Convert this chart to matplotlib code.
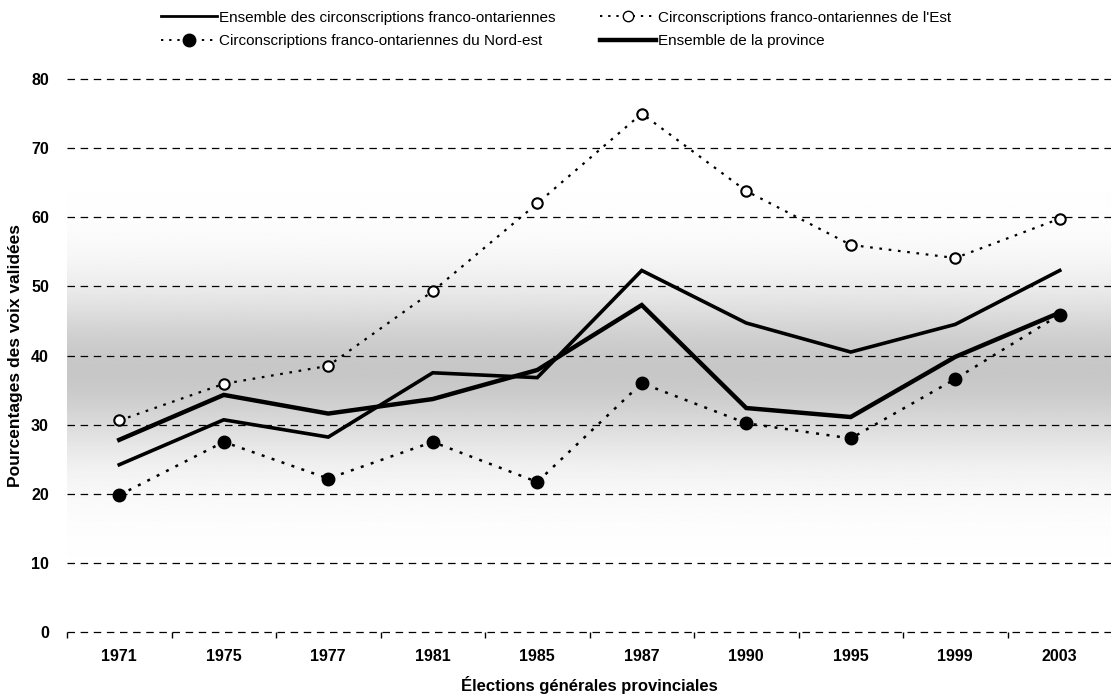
import numpy as np
import matplotlib.pyplot as plt
from matplotlib.lines import Line2D

plt.rcParams['font.family'] = ['Liberation Sans', 'DejaVu Sans']

elections = ['1971', '1975', '1977', '1981', '1985', '1987', '1990', '1995', '1999', '2003']

franco_all = [24.2, 30.7, 28.2, 37.5, 36.8, 52.3, 44.7, 40.5, 44.5, 52.3]
franco_est = [30.6, 35.9, 38.5, 49.3, 62.0, 75.0, 63.8, 56.0, 54.1, 59.8]
franco_nord_est = [19.8, 27.5, 22.2, 27.5, 21.7, 36.0, 30.2, 28.0, 36.6, 45.9]
province = [27.8, 34.3, 31.6, 33.7, 37.9, 47.3, 32.4, 31.1, 39.8, 46.2]

y_ticks = [0, 10, 20, 30, 40, 50, 60, 70, 80]

W, H = 1111, 696
fig = plt.figure(figsize=(W / 100, H / 100), dpi=100)
ax = fig.add_axes([67 / W, (H - 632) / H, 1045 / W, (632 - 79) / H])

x = np.arange(len(elections))
ax.set_xlim(-0.5, len(elections) - 0.5)
ax.set_ylim(0, 80)

# grey scanned band behind the lines
yy = np.linspace(0, 80, 400)
shade = 0.17 * np.exp(-((yy - 38) / 11.0) ** 2) + 0.05 * np.exp(-((yy - 37) / 16.0) ** 2)
ax.imshow(1 - shade[:, None], extent=[-0.5, len(elections) - 0.5, 0, 80], origin='lower',
          aspect='auto', cmap='gray', vmin=0, vmax=1, zorder=0)

for v in y_ticks:
    ax.axhline(v, color='black', linewidth=0.9, linestyle=(0, (6, 4.5)), clip_on=False, zorder=1)

ax.plot(x, franco_all, color='black', linewidth=2.6, solid_joinstyle='miter', zorder=3)
ax.plot(x, franco_est, color='black', linewidth=1.6, linestyle=(0, (1.2, 3)),
        marker='o', markersize=7.5, markerfacecolor='white', markeredgewidth=1.5, zorder=4)
ax.plot(x, franco_nord_est, color='black', linewidth=1.8, linestyle=(0, (1.2, 3)),
        marker='o', markersize=9, markerfacecolor='black', zorder=4)
ax.plot(x, province, color='black', linewidth=3.2, solid_joinstyle='miter', zorder=3)

for s in ax.spines.values():
    s.set_visible(False)

ax.set_xticks(x)
ax.set_xticklabels(elections, fontsize=11.5, fontweight='bold')
ax.set_xticks(np.arange(-0.5, len(elections)), minor=True)
ax.tick_params(axis='x', which='major', length=0, pad=12)
ax.tick_params(axis='x', which='minor', length=4, width=1, color='black', direction='out')
ax.set_yticks(y_ticks)
ax.set_yticklabels([str(v) for v in y_ticks], fontsize=11.5, fontweight='bold')
ax.tick_params(axis='y', length=0, pad=13)

ax.set_xlabel('Élections générales provinciales', fontsize=12, fontweight='bold', labelpad=9)
ax.set_ylabel('Pourcentages des voix validées', fontsize=12.5, fontweight='bold', labelpad=6)

handles = [
    Line2D([], [], color='black', linewidth=2.0),
    Line2D([], [], color='black', linewidth=1.4, linestyle=(0, (1.2, 3)),
           marker='o', markersize=7.5, markerfacecolor='white'),
    Line2D([], [], color='black', linewidth=1.4, linestyle=(0, (1.2, 3)),
           marker='o', markersize=9, markerfacecolor='black'),
    Line2D([], [], color='black', linewidth=3.2),
]
labels = [
    'Ensemble des circonscriptions franco-ontariennes',
    "Circonscriptions franco-ontariennes de l'Est",
    'Circonscriptions franco-ontariennes du Nord-est',
    'Ensemble de la province',
]
order = [0, 2, 1, 3]
fig.legend([handles[i] for i in order], [labels[i] for i in order], ncol=2,
           loc='upper left', bbox_to_anchor=(150 / W, 1.0), frameon=False,
           fontsize=11, handlelength=3.7, handletextpad=0.1, columnspacing=2.9,
           labelspacing=0.6, borderaxespad=0.3)

fig.savefig('out.png', dpi=100)
